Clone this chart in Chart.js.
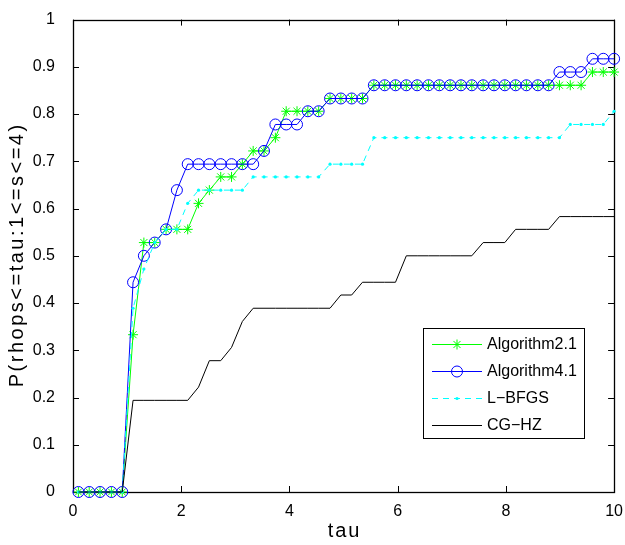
<!DOCTYPE html>
<html>
<head>
<meta charset="utf-8">
<title>Performance profile</title>
<script src="https://cdn.jsdelivr.net/npm/chart.js"></script>
<style>
  html, body { margin: 0; padding: 0; background: #fff; }
  #wrap { width: 625px; height: 545px; }
</style>
</head>
<body>
<div id="wrap"><canvas id="chart" width="625" height="545"></canvas></div>
<script>
// tau sample points
const tau = [0.10, 0.30, 0.50, 0.71, 0.91, 1.11, 1.31, 1.51, 1.72, 1.92,
             2.12, 2.32, 2.52, 2.73, 2.93, 3.13, 3.33, 3.53, 3.74, 3.94,
             4.14, 4.34, 4.54, 4.75, 4.95, 5.15, 5.35, 5.56, 5.76, 5.96,
             6.16, 6.36, 6.57, 6.77, 6.97, 7.17, 7.37, 7.58, 7.78, 7.98,
             8.18, 8.38, 8.59, 8.79, 8.99, 9.19, 9.39, 9.60, 9.80, 10.00];

const alg21 = [0, 0, 0, 0, 0, 0.333, 0.528, 0.528, 0.556, 0.556,
               0.556, 0.611, 0.639, 0.667, 0.667, 0.694, 0.722, 0.722, 0.750, 0.806,
               0.806, 0.806, 0.806, 0.833, 0.833, 0.833, 0.833, 0.861, 0.861, 0.861,
               0.861, 0.861, 0.861, 0.861, 0.861, 0.861, 0.861, 0.861, 0.861, 0.861,
               0.861, 0.861, 0.861, 0.861, 0.861, 0.861, 0.861, 0.889, 0.889, 0.889];

const alg41 = [0, 0, 0, 0, 0, 0.444, 0.500, 0.528, 0.556, 0.639,
               0.694, 0.694, 0.694, 0.694, 0.694, 0.694, 0.694, 0.722, 0.778, 0.778,
               0.778, 0.806, 0.806, 0.833, 0.833, 0.833, 0.833, 0.861, 0.861, 0.861,
               0.861, 0.861, 0.861, 0.861, 0.861, 0.861, 0.861, 0.861, 0.861, 0.861,
               0.861, 0.861, 0.861, 0.861, 0.889, 0.889, 0.889, 0.917, 0.917, 0.917];

const lbfgs = [0, 0, 0, 0, 0, 0.389, 0.472, 0.528, 0.556, 0.556,
               0.611, 0.639, 0.639, 0.639, 0.639, 0.639, 0.667, 0.667, 0.667, 0.667,
               0.667, 0.667, 0.667, 0.694, 0.694, 0.694, 0.694, 0.750, 0.750, 0.750,
               0.750, 0.750, 0.750, 0.750, 0.750, 0.750, 0.750, 0.750, 0.750, 0.750,
               0.750, 0.750, 0.750, 0.750, 0.750, 0.778, 0.778, 0.778, 0.778, 0.806];

const cghz = [0, 0, 0, 0, 0, 0.194, 0.194, 0.194, 0.194, 0.194,
              0.194, 0.222, 0.278, 0.278, 0.306, 0.361, 0.389, 0.389, 0.389, 0.389,
              0.389, 0.389, 0.389, 0.389, 0.417, 0.417, 0.444, 0.444, 0.444, 0.444,
              0.500, 0.500, 0.500, 0.500, 0.500, 0.500, 0.500, 0.528, 0.528, 0.528,
              0.556, 0.556, 0.556, 0.556, 0.583, 0.583, 0.583, 0.583, 0.583, 0.583];

const xTicks = [0, 2, 4, 6, 8, 10];
const yTicks = [0, 0.1, 0.2, 0.3, 0.4, 0.5, 0.6, 0.7, 0.8, 0.9, 1];

const xTitle = 'tau';
const yTitle = 'P(rhops<=tau:1<=s<=4)';

const FONT = "'Liberation Sans', Arial, Helvetica, sans-serif";
Chart.defaults.font.family = FONT;
Chart.defaults.color = '#000';

function pts(ys) {
  return tau.map((t, i) => ({ x: t, y: ys[i] }));
}

// box + inward ticks on all four sides, drawn under the data
const frame = {
  id: 'frame',
  beforeDatasetsDraw(chart) {
    const { ctx, chartArea: a, scales: { x, y } } = chart;
    const tl = 6;
    ctx.save();
    ctx.strokeStyle = '#000';
    ctx.lineWidth = 1;
    ctx.beginPath();
    xTicks.forEach(v => {
      const px = Math.round(x.getPixelForValue(v)) + 0.5;
      ctx.moveTo(px, a.bottom); ctx.lineTo(px, a.bottom - tl);
      ctx.moveTo(px, a.top); ctx.lineTo(px, a.top + tl);
    });
    yTicks.forEach(v => {
      const py = Math.round(y.getPixelForValue(v)) + 0.5;
      ctx.moveTo(a.left, py); ctx.lineTo(a.left + tl, py);
      ctx.moveTo(a.right, py); ctx.lineTo(a.right - tl, py);
    });
    ctx.stroke();
    ctx.lineWidth = 1.3;
    ctx.strokeRect(Math.round(a.left) + 0.5, Math.round(a.top) + 0.5,
                   Math.round(a.right - a.left), Math.round(a.bottom - a.top));
    ctx.restore();
  }
};

function marker(ctx, style, color, r, x, y) {
  ctx.strokeStyle = color;
  ctx.fillStyle = color;
  ctx.lineWidth = 1;
  ctx.beginPath();
  if (style === 'star') {
    const d = r * Math.SQRT1_2;
    ctx.moveTo(x - r, y); ctx.lineTo(x + r, y);
    ctx.moveTo(x, y - r); ctx.lineTo(x, y + r);
    ctx.moveTo(x - d, y - d); ctx.lineTo(x + d, y + d);
    ctx.moveTo(x - d, y + d); ctx.lineTo(x + d, y - d);
    ctx.stroke();
  } else if (style === 'dot') {
    ctx.arc(x, y, r, 0, Math.PI * 2);
    ctx.fill();
  } else if (style === 'circle') {
    ctx.arc(x, y, r, 0, Math.PI * 2);
    ctx.stroke();
  }
}

// axis titles (drawn by hand so the letter spacing can follow the reference)
const titles = {
  id: 'titles',
  afterDraw(chart) {
    const { ctx, chartArea: a } = chart;
    ctx.save();
    ctx.fillStyle = '#000';
    ctx.font = '20px ' + FONT;
    ctx.letterSpacing = '2px';
    ctx.textAlign = 'center';
    ctx.textBaseline = 'alphabetic';
    ctx.fillText(xTitle, (a.left + a.right) / 2 + 1, 537);
    ctx.translate(23, (a.top + a.bottom) / 2);
    ctx.rotate(-Math.PI / 2);
    ctx.letterSpacing = '2.5px';
    ctx.fillText(yTitle, 1, 0);
    ctx.restore();
  }
};

// legend box inside the plot, lower right
const boxLegend = {
  id: 'boxLegend',
  afterDraw(chart) {
    const { ctx } = chart;
    const L = 423, T = 328, R = 584, B = 438;
    ctx.save();
    ctx.fillStyle = '#fff';
    ctx.fillRect(L, T, R - L, B - T);
    ctx.strokeStyle = '#000';
    ctx.lineWidth = 1;
    ctx.strokeRect(L + 0.5, T + 0.5, R - L, B - T);
    const rows = [344, 371, 398, 425];
    chart.data.datasets.forEach((ds, i) => {
      const yy = rows[i] + 0.5;
      ctx.strokeStyle = ds.borderColor;
      ctx.lineWidth = 1;
      ctx.setLineDash(ds.borderDash || []);
      ctx.beginPath();
      ctx.moveTo(432, yy); ctx.lineTo(482, yy);
      ctx.stroke();
      ctx.setLineDash([]);
      if (ds.legendMarker) marker(ctx, ds.legendMarker, ds.borderColor, ds.pointRadius, 457, yy);
      ctx.fillStyle = '#000';
      ctx.font = '16px ' + FONT;
      ctx.textAlign = 'left';
      ctx.textBaseline = 'middle';
      ctx.fillText(ds.label, 487, yy);
    });
    ctx.restore();
  }
};

new Chart(document.getElementById('chart'), {
  type: 'line',
  data: {
    datasets: [
      {
        label: 'Algorithm2.1', data: pts(alg21), order: 3,
        borderColor: '#00ff00', borderWidth: 1,
        pointStyle: 'star', pointRadius: 5, pointBorderWidth: 1,
        pointBorderColor: '#00ff00', pointBackgroundColor: 'rgba(0,0,0,0)',
        legendMarker: 'star'
      },
      {
        label: 'Algorithm4.1', data: pts(alg41), order: 2,
        borderColor: '#0000ff', borderWidth: 1,
        pointStyle: 'circle', pointRadius: 5.5, pointBorderWidth: 1,
        pointBorderColor: '#0000ff', pointBackgroundColor: 'rgba(0,0,0,0)',
        legendMarker: 'circle'
      },
      {
        label: 'L\u2212BFGS', data: pts(lbfgs), order: 1,
        borderColor: '#00ffff', borderWidth: 1, borderDash: [6, 5],
        pointStyle: 'circle', pointRadius: 1.6, pointBorderWidth: 0,
        pointBackgroundColor: '#00ffff',
        legendMarker: 'dot'
      },
      {
        label: 'CG\u2212HZ', data: pts(cghz), order: 0,
        borderColor: '#000000', borderWidth: 1, pointRadius: 0
      }
    ].map(d => Object.assign({ fill: false, tension: 0, clip: false }, d))
  },
  options: {
    responsive: false,
    animation: false,
    events: [],
    layout: { padding: { top: 12, right: 10, left: 0, bottom: 0 } },
    plugins: { legend: { display: false }, tooltip: { enabled: false } },
    scales: {
      x: {
        type: 'linear', min: 0, max: 10,
        grid: { display: false }, border: { display: false },
        afterBuildTicks: s => { s.ticks = xTicks.map(v => ({ value: v })); },
        afterFit: s => { s.height = 53; },
        ticks: { font: { size: 16 }, color: '#000', padding: 2, maxRotation: 0 },
        title: { display: false }
      },
      y: {
        type: 'linear', min: 0, max: 1,
        grid: { display: false }, border: { display: false },
        afterBuildTicks: s => { s.ticks = yTicks.map(v => ({ value: v })); },
        afterFit: s => { s.width = 73; },
        ticks: { font: { size: 16 }, color: '#000', padding: 10, callback: v => String(v) },
        title: { display: false }
      }
    }
  },
  plugins: [frame, titles, boxLegend]
});
</script>
</body>
</html>
